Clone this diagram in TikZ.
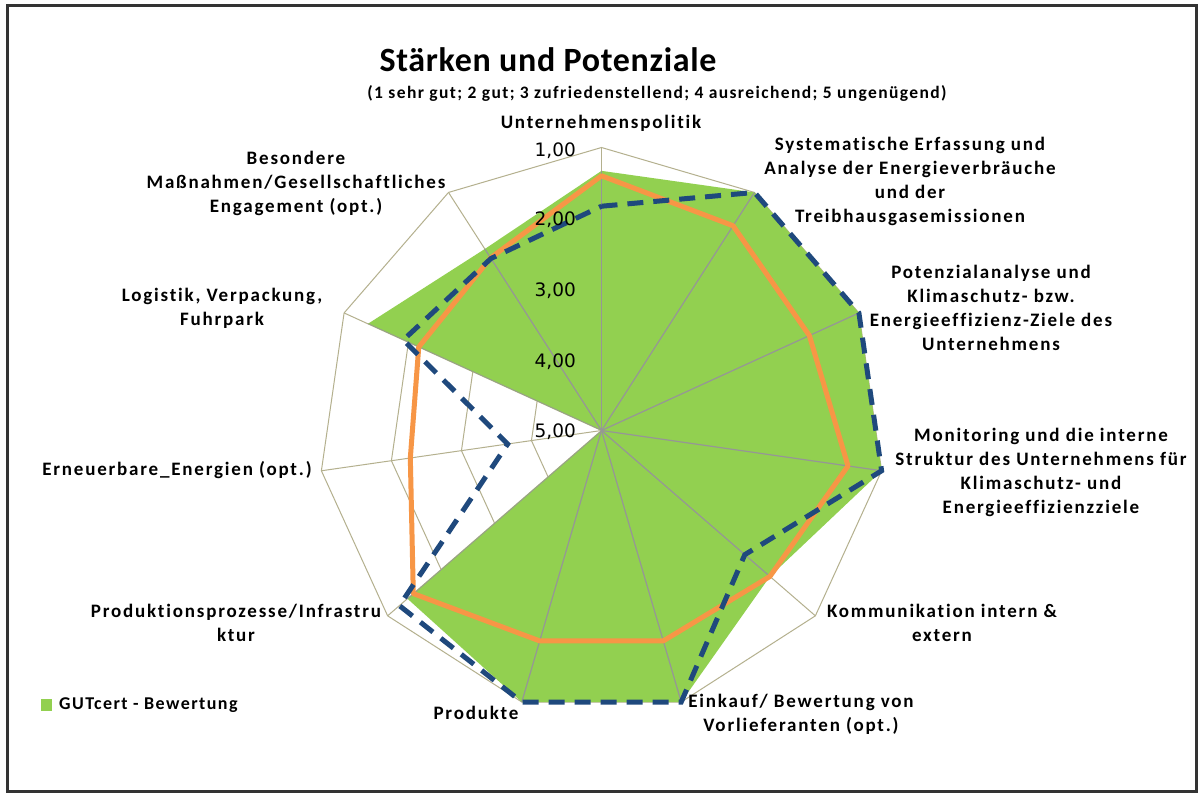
\documentclass[tikz,border=0pt]{standalone}
\usepackage{fontspec}
\setmainfont{Carlito}
\newfontfamily\lblfont[LetterSpace=9.5, Ligatures=NoCommon]{Carlito}
\newfontfamily\subfont[LetterSpace=8, Ligatures=NoCommon]{Carlito}
\newfontfamily\titlefont[LetterSpace=2, Ligatures=NoCommon]{Carlito}
\newfontfamily\tickfont{DejaVu Sans}
\definecolor{ringc}{RGB}{180,176,142}
\definecolor{spokec}{RGB}{150,150,150}
\definecolor{gutgreen}{RGB}{146,208,80}
\definecolor{lineorange}{RGB}{247,150,70}
\definecolor{lineblue}{RGB}{31,73,125}
\begin{document}
\begin{tikzpicture}[x=1pt, y=-1pt,
  lbl/.style={align=center, inner sep=0pt, font=\lblfont\bfseries\fontsize{19}{24}\selectfont},
  ticklbl/.style={anchor=east, inner sep=0pt, font=\tickfont\fontsize{18.5}{20}\selectfont},
  ring/.style={draw=ringc, line width=1pt},
  spoke/.style={draw=spokec, line width=1.2pt},
  orangeline/.style={draw=lineorange, line width=5pt, line join=round},
  blueline/.style={draw=lineblue, line width=5pt, dash pattern=on 16pt off 10pt, line join=miter}]
\useasboundingbox (0,0) rectangle (1203,800);
\fill[white] (0,0) rectangle (1203,800);
\draw[line width=3pt, black!80] (7.5,5.5) rectangle (1196,791);

\begin{scope}[shift={(601.5,430.5)}]
  \foreach \k in {1,...,4}
    \draw[ring] (-90:{\k*70.75}) \foreach \i in {1,...,10} { -- ({\i*360/11-90}:{\k*70.75}) } -- cycle;
  \foreach \i in {0,...,10}
    \draw[ring] (0,0) -- ({\i*360/11-90}:283);
  \foreach \i/\v in {0/1.33,1/1,2/1,3/1,4/1.85,5/1,6/1,7/1.37,8/5,9/1.37,10/1.95}
    \coordinate (g\i) at ({\i*360/11-90}:{(5-\v)*70.75});
  \foreach \i/\v in {0/1.40,1/1.56,2/1.77,3/1.48,4/1.85,5/1.90,6/1.90,7/1.48,8/2.27,9/2.16,10/2.10}
    \coordinate (o\i) at ({\i*360/11-90}:{(5-\v)*70.75});
  \foreach \i/\v in {0/1.83,1/1,2/1,3/1,4/2.32,5/1,6/1,7/1.22,8/3.66,9/1.92,10/2.11}
    \coordinate (b\i) at ({\i*360/11-90}:{(5-\v)*70.75});
  \fill[gutgreen] (g0) -- (g1) -- (g2) -- (g3) -- (g4) -- (g5) -- (g6) -- (g7) -- (g8) -- (g9) -- (g10) -- cycle;
  \begin{scope}
    \clip (g0) -- (g1) -- (g2) -- (g3) -- (g4) -- (g5) -- (g6) -- (g7) -- (g8) -- (g9) -- (g10) -- cycle;
    \foreach \i in {0,...,10}
      \draw[spoke] (0,0) -- ({\i*360/11-90}:283);
  \end{scope}
  \draw[orangeline] (o0) -- (o1) -- (o2) -- (o3) -- (o4) -- (o5) -- (o6) -- (o7) -- (o8) -- (o9) -- (o10) -- cycle;
  \draw[blueline] (b0) -- (b1) -- (b2) -- (b3) -- (b4) -- (b5) -- (b6) -- (b7) -- (b8) -- (b9) -- (b10) -- cycle;
\end{scope}

\node[ticklbl] (t1) at (576,151) {1,00};
\node[ticklbl] (t2) at (576,220) {2,00};
\node[ticklbl] (t3) at (576,291) {3,00};
\node[ticklbl] (t4) at (576,362) {4,00};
\node[ticklbl] (t5) at (576,432) {5,00};

\node[inner sep=0pt, font=\titlefont\bfseries\fontsize{34}{38}\selectfont] (title) at (548,60) {Stärken und Potenziale};
\node[inner sep=0pt, font=\subfont\bfseries\fontsize{17.5}{20}\selectfont] (subtitle) at (657,93) {(1 sehr gut; 2 gut; 3 zufriedenstellend; 4 ausreichend; 5 ungenügend)};

\node[lbl] (lab0) at (601,123) {Unternehmenspolitik};
\node[lbl] (lab1) at (910,181.5) {Systematische Erfassung und\\Analyse der Energieverbräuche\\und der\\Treibhausgasemissionen};
\node[lbl] (lab2) at (991,307.5) {Potenzialanalyse und\\Klimaschutz- bzw.\\Energieeffizienz-Ziele des\\Unternehmens};
\node[lbl] (lab3) at (1041,472.5) {Monitoring und die interne\\Struktur des Unternehmens für\\Klimaschutz- und\\Energieeffizienzziele};
\node[lbl] (lab4) at (942,622.5) {Kommunikation intern \&\\extern};
\node[lbl] (lab5) at (801,714) {Einkauf/ Bewertung von\\Vorlieferanten (opt.)};
\node[lbl] (lab6) at (476,713) {Produkte};
\node[lbl] (lab7) at (236,623) {Produktionsprozesse/Infrastru\\ktur};
\node[lbl] (lab8) at (177,470) {Erneuerbare\_Energien (opt.)};
\node[lbl] (lab9) at (222,308.5) {Logistik, Verpackung,\\Fuhrpark};
\node[lbl] (lab10) at (296,183) {Besondere\\Maßnahmen/Gesellschaftliches\\Engagement (opt.)};

\fill[gutgreen] (41,699) rectangle (52,711);
\node[anchor=west, inner sep=0pt, font=\subfont\bfseries\fontsize{18}{20}\selectfont] (legend) at (59,705) {GUTcert - Bewertung};
\end{tikzpicture}
\end{document}
